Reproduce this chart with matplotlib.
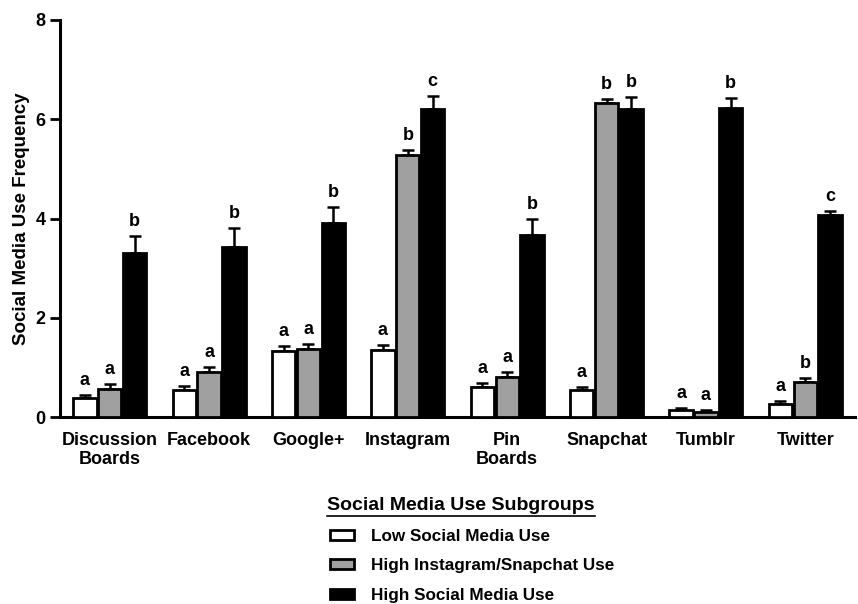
import matplotlib.pyplot as plt
import numpy as np
from matplotlib.patches import Patch
from matplotlib.lines import Line2D

plt.rcParams['font.family'] = ['Liberation Sans', 'DejaVu Sans']
plt.rcParams['font.weight'] = 'bold'

platforms = ['Discussion\nBoards', 'Facebook', 'Google+', 'Instagram',
             'Pin\nBoards', 'Snapchat', 'Tumblr', 'Twitter']
groups = ['Low Social Media Use', 'High Instagram/Snapchat Use', 'High Social Media Use']

low_mean = [0.39, 0.55, 1.32, 1.35, 0.60, 0.54, 0.14, 0.26]
low_err = [0.06, 0.08, 0.12, 0.11, 0.09, 0.07, 0.04, 0.06]
insta_mean = [0.57, 0.90, 1.38, 5.28, 0.81, 6.33, 0.10, 0.71]
insta_err = [0.09, 0.10, 0.10, 0.11, 0.09, 0.07, 0.04, 0.08]
high_mean = [3.30, 3.42, 3.91, 6.20, 3.67, 6.20, 6.23, 4.07]
high_err = [0.35, 0.38, 0.33, 0.27, 0.33, 0.24, 0.20, 0.08]

low_sig = ['a', 'a', 'a', 'a', 'a', 'a', 'a', 'a']
insta_sig = ['a', 'a', 'a', 'b', 'a', 'b', 'a', 'b']
high_sig = ['b', 'b', 'b', 'c', 'b', 'b', 'b', 'c']

fig = plt.figure(figsize=(8.58, 6.04), dpi=100)
ax = fig.add_axes([60 / 858, 1 - 417 / 604, 795 / 858, 397 / 604])

x = np.arange(len(platforms))
w = 0.235
offsets = [-0.25, 0.0, 0.25]
colors = ['white', '#a0a0a0', 'black']
means = [low_mean, insta_mean, high_mean]
errs = [low_err, insta_err, high_err]
sigs = [low_sig, insta_sig, high_sig]

for off, c, m, e, s in zip(offsets, colors, means, errs, sigs):
    m = np.array(m)
    e = np.array(e)
    ax.bar(x + off, m, width=w, color=c, edgecolor='black', linewidth=2, zorder=3)
    ax.errorbar(x + off, m, yerr=[np.zeros_like(e), e], fmt='none', ecolor='black',
                elinewidth=1.8, capsize=4.5, capthick=1.8, zorder=2)
    for xi, yi, ei, lab in zip(x + off, m, e, s):
        ax.text(xi, yi + ei + 0.12, lab, ha='center', va='bottom',
                fontsize=13, fontweight='bold')

ax.set_xlim(-0.5, 7.5)
ax.set_ylim(0, 8)
ax.set_yticks([0, 2, 4, 6, 8])
ax.set_xticks(x)
ax.set_xticklabels(platforms, fontsize=13, fontweight='bold', linespacing=1.15)
ax.tick_params(axis='x', length=0, pad=11)
ax.tick_params(axis='y', length=7, width=2, labelsize=13)
ax.set_ylabel('Social Media Use Frequency', fontsize=13.5, fontweight='bold', labelpad=4)
for sp in ['top', 'right']:
    ax.spines[sp].set_visible(False)
for sp in ['left', 'bottom']:
    ax.spines[sp].set_linewidth(2.2)

# legend title with underline
title = fig.text(327 / 858, 1 - 506 / 604, 'Social Media Use Subgroups',
                 fontsize=14, fontweight='bold', va='center', ha='left')
fig.canvas.draw()
bb = title.get_window_extent().transformed(fig.transFigure.inverted())
fig.add_artist(Line2D([bb.x0, bb.x1], [bb.y0 - 0.002, bb.y0 - 0.002],
                      color='black', linewidth=1.2, transform=fig.transFigure))

handles = [Patch(facecolor=c, edgecolor='black', linewidth=2) for c in colors]
fig.legend(handles, groups, loc='upper left', bbox_to_anchor=(323 / 858, 1 - 522 / 604),
           frameon=False, fontsize=12.3, handlelength=1.4, handleheight=0.5,
           labelspacing=0.85, handletextpad=1.0, borderaxespad=0)

fig.savefig('out.png', dpi=100)
